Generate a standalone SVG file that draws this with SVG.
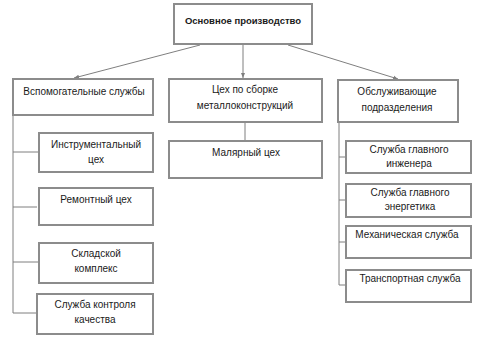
<svg xmlns="http://www.w3.org/2000/svg" width="477" height="340" viewBox="0 0 477 340">
<defs>
<marker id="ah" viewBox="0 0 10 10" refX="10" refY="5" markerWidth="5" markerHeight="5" orient="auto">
<path d="M0,1 L10,5 L0,9 z" fill="#7f7f7f"/>
</marker>
<style>
.box{fill:#fff;stroke:#8c8c8c;stroke-width:2}
.t{font-family:"Liberation Sans",Arial,sans-serif;font-size:10px;fill:#1a1a1a;text-anchor:middle}
.b{font-weight:bold;font-size:9.5px}
.c{stroke:#7f7f7f;stroke-width:1;fill:none}
</style>
</defs>
<rect width="477" height="340" fill="#fff"/>
<g id="connectors">
<line class="c" x1="200" y1="45" x2="74" y2="78" marker-end="url(#ah)"/>
<line class="c" x1="243" y1="44" x2="243" y2="78" marker-end="url(#ah)"/>
<line class="c" x1="288" y1="45" x2="398" y2="79" marker-end="url(#ah)"/>
<polyline class="c" points="13,115 13,313 37,313"/>
<line class="c" x1="13" y1="152" x2="39" y2="152"/>
<line class="c" x1="13" y1="207" x2="37" y2="207"/>
<line class="c" x1="13" y1="262" x2="39" y2="262"/>
<line class="c" x1="245" y1="122" x2="245" y2="141"/>
<polyline class="c" points="339,122 339,285 346,285"/>
<line class="c" x1="339" y1="157" x2="346" y2="157"/>
<line class="c" x1="339" y1="200" x2="346" y2="200"/>
<line class="c" x1="339" y1="242" x2="346" y2="242"/>
</g>
<g id="main"><rect class="box" x="174" y="4" width="138" height="40"/><text class="t b" x="243" y="24">Основное производство</text></g>
<g id="aux"><rect class="box" x="13" y="79" width="140" height="36"/><text class="t" x="84" y="95">Вспомогательные службы</text></g>
<g id="assembly"><rect class="box" x="169" y="79" width="153" height="43"/><text class="t" x="245" y="93">Цех по сборке</text><text class="t" x="245" y="109">металлоконструкций</text></g>
<g id="service"><rect class="box" x="338" y="80" width="120" height="42"/><text class="t" x="397" y="95">Обслуживающие</text><text class="t" x="397" y="111">подразделения</text></g>
<g id="tool"><rect class="box" x="39" y="133" width="114" height="39"/><text class="t" x="96" y="148">Инструментальный</text><text class="t" x="96" y="163">цех</text></g>
<g id="repair"><rect class="box" x="39" y="188" width="114" height="37"/><text class="t" x="96" y="203">Ремонтный цех</text></g>
<g id="storage"><rect class="box" x="39" y="243" width="114" height="40"/><text class="t" x="96" y="257">Складской</text><text class="t" x="96" y="272">комплекс</text></g>
<g id="quality"><rect class="box" x="37" y="294" width="116" height="40"/><text class="t" x="95" y="308">Служба контроля</text><text class="t" x="95" y="323">качества</text></g>
<g id="paint"><rect class="box" x="169" y="141" width="153" height="37"/><text class="t" x="246" y="156">Малярный цех</text></g>
<g id="engineer"><rect class="box" x="346" y="141" width="125" height="32"/><text class="t" x="409" y="153">Служба главного</text><text class="t" x="409" y="167">инженера</text></g>
<g id="energy"><rect class="box" x="346" y="184" width="125" height="33"/><text class="t" x="410" y="196">Служба главного</text><text class="t" x="410" y="210">энергетика</text></g>
<g id="mech"><rect class="box" x="346" y="226" width="125" height="32"/><text class="t" x="407" y="238">Механическая служба</text></g>
<g id="transport"><rect class="box" x="346" y="270" width="125" height="32"/><text class="t" x="410" y="282">Транспортная служба</text></g>
</svg>
